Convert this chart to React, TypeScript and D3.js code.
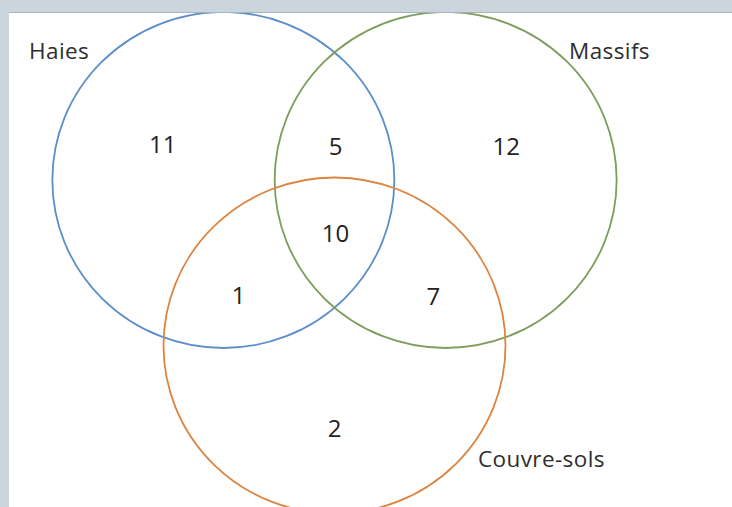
import React, { useEffect, useRef } from 'react';
import * as d3 from 'd3';

// sets of the diagram, in drawing order
const setNames = ['Haies', 'Massifs', 'Couvre-sols'];
const setColors = ['#5b8fc8', '#7d9d5c', '#dc843f'];
// circle centres in radius units (layout, not data)
const setCx = [-0.65, 0.65, 0.0];
const setCy = [0.0, 0.0, 0.985];

// region counts: membership key -> value (H, M, C)
const regionKeys = ['100', '010', '110', '111', '101', '011', '001'];
const regionValues = [11, 12, 5, 10, 1, 7, 2];

const W = 732;
const H = 507;

const App = () => {
  const svgRef = useRef<SVGSVGElement>(null);

  useEffect(() => {
    const svg = d3.select(svgRef.current);
    svg.selectAll('*').remove();

    // one unit = one radius (the original is very slightly squashed vertically)
    const x = d3.scaleLinear().domain([-1, 1]).range([334.5 - 171, 334.5 + 171]);
    const y = d3.scaleLinear().domain([-1, 1]).range([180 - 168, 180 + 168]);
    const rx = (x(1) - x(-1)) / 2;
    const ry = (y(1) - y(-1)) / 2;

    // frame
    svg.append('rect').attr('width', W).attr('height', H).attr('fill', '#cad5dd');
    svg.append('rect').attr('x', 9).attr('y', 12).attr('width', W - 9).attr('height', H - 12).attr('fill', '#ffffff');
    svg.append('line').attr('x1', 9).attr('x2', W).attr('y1', 12.5).attr('y2', 12.5)
      .attr('stroke', '#a9b3bc').attr('stroke-width', 1);

    const g = svg.append('g').attr('clip-path', 'url(#panel)');
    svg.append('defs').append('clipPath').attr('id', 'panel')
      .append('rect').attr('x', 9).attr('y', 13).attr('width', W - 9).attr('height', H - 13);

    g.selectAll('ellipse.set')
      .data(setNames)
      .join('ellipse')
      .attr('class', 'set')
      .attr('cx', (d, i) => x(setCx[i]))
      .attr('cy', (d, i) => y(setCy[i]))
      .attr('rx', rx)
      .attr('ry', ry)
      .attr('fill', 'none')
      .attr('stroke', (d, i) => setColors[i])
      .attr('stroke-width', 1.8);

    // region label positions: centroid of visible sample points of each region
    const inside = (px: number, py: number, i: number) =>
      Math.hypot((px - x(setCx[i])) / rx, (py - y(setCy[i])) / ry) < 1;
    const sums: Record<string, [number, number, number]> = {};
    regionKeys.forEach(k => (sums[k] = [0, 0, 0]));
    for (let px = 9; px < W; px += 3) {
      for (let py = 12; py < H; py += 3) {
        const key = setNames.map((_, i) => (inside(px, py, i) ? '1' : '0')).join('');
        if (sums[key]) {
          sums[key][0] += px;
          sums[key][1] += py;
          sums[key][2] += 1;
        }
      }
    }
    // small hand nudges so the numbers sit where the original places them
    const nudge: Record<string, [number, number]> = {
      '100': [-10, -5], '010': [10, -3], '110': [1, 14], '111': [1, 3],
      '101': [-4, 10], '011': [7, 11], '001': [0, 16]
    };

    g.selectAll('text.count')
      .data(regionKeys)
      .join('text')
      .attr('class', 'count')
      .attr('x', k => sums[k][0] / sums[k][2] + nudge[k][0])
      .attr('y', k => sums[k][1] / sums[k][2] + nudge[k][1])
      .attr('text-anchor', 'middle')
      .attr('dominant-baseline', 'central')
      .style('font-family', '"Open Sans", sans-serif')
      .style('font-size', '24px')
      .style('fill', '#222222')
      .text((k, i) => regionValues[i]);

    // set names
    const labelPos = [
      { x: 29, y: 50, anchor: 'start' },
      { x: 650, y: 50, anchor: 'end' },
      { x: 478, y: 458, anchor: 'start' }
    ];
    g.selectAll('text.name')
      .data(setNames)
      .join('text')
      .attr('class', 'name')
      .attr('x', (d, i) => labelPos[i].x)
      .attr('y', (d, i) => labelPos[i].y)
      .attr('text-anchor', (d, i) => labelPos[i].anchor)
      .attr('dominant-baseline', 'central')
      .style('font-family', '"Open Sans", sans-serif')
      .style('font-size', '22.5px')
      .style('letter-spacing', '0.4px')
      .style('fill', '#2e2e2e')
      .text(d => d);
  }, []);

  return (
    <svg ref={svgRef} width={W} height={H}
      style={{ position: 'absolute', left: 0, top: 0, display: 'block' }} />
  );
};

export default App;
